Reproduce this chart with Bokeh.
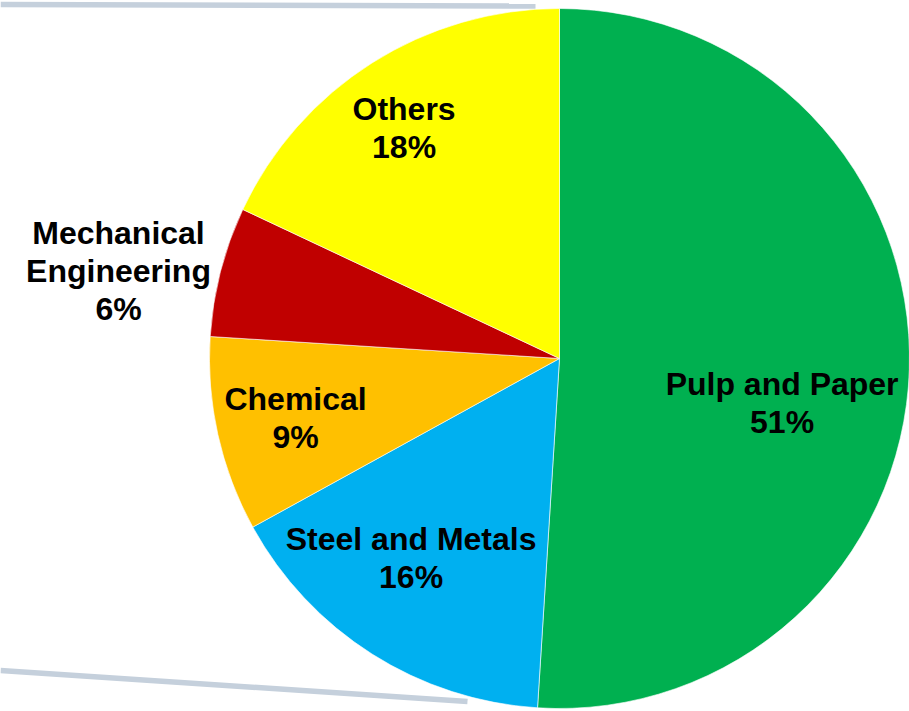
import math
from bokeh.plotting import figure
from bokeh.models import Range1d, ColumnDataSource
from bokeh.core.properties import value
from bokeh.embed import file_html
from bokeh.resources import INLINE

# ---- data ----
categories = ["Pulp and Paper", "Steel and Metals", "Chemical", "Mechanical Engineering", "Others"]
display_names = ["Pulp and Paper", "Steel and Metals", "Chemical", "Mechanical\nEngineering", "Others"]
shares = [51, 16, 9, 6, 18]
colors = ["#00B050", "#00B0F0", "#FFC000", "#C00000", "#FFFF00"]

# ---- layout (screen pixels of the page) ----
W, H = 909, 711
OX, OY = 0, 0
CX, CY, R = 559, 358, 350     # pie centre / radius (page px)
# label block centres as offsets from pie centre, in radius units (x right, y down)
label_offsets = [(0.636, 0.129), (-0.424, 0.573), (-0.754, 0.173), (-1.26, -0.246), (-0.444, -0.657)]
FONT_PX = 32
LINE_H = 38
BASE_SHIFT = -1

p = figure(width=W, height=H, output_backend="svg", toolbar_location=None,
           x_range=Range1d(OX, OX + W), y_range=Range1d(-(OY + H), -OY),
           min_border=0, outline_line_color=None)
p.axis.visible = False
p.xgrid.visible = False
p.ygrid.visible = False
p.background_fill_color = "white"
p.border_fill_color = "white"

# decorative grey connector lines
p.segment(x0=[0, 0], y0=[-4, -670], x1=[535, 467], y1=[-5.5, -701],
          line_color="#C5D0DC", line_width=5.5)

# wedges (clockwise from 12 o'clock)
total = float(sum(shares))
starts, ends = [], []
cum = 0.0
for s in shares:
    c0 = cum / total
    cum += s
    c1 = cum / total
    starts.append(math.pi / 2 - 2 * math.pi * c1)
    ends.append(math.pi / 2 - 2 * math.pi * c0)

src = ColumnDataSource(dict(start=starts, end=ends, color=colors, cat=categories))
p.wedge(x=CX, y=-CY, radius=R, start_angle="start", end_angle="end",
        fill_color="color", line_color="white", line_width=0.6, source=src)

# labels
tx, ty, tt = [], [], []
for name, share, (dx, dy) in zip(display_names, shares, label_offsets):
    lines = name.split("\n") + [f"{share}%"]
    cx = CX + dx * R
    cy = CY + dy * R
    n = len(lines)
    for i, ln in enumerate(lines):
        base = cy - (n - 1) * LINE_H / 2 + i * LINE_H + BASE_SHIFT
        tx.append(cx)
        ty.append(-base)
        tt.append(ln)

p.text(x=tx, y=ty, text=tt, text_font=value("Liberation Sans"), text_font_style="bold",
       text_font_size=f"{FONT_PX}px", text_color="black", text_align="center",
       text_baseline="alphabetic")

open("out.html", "w").write(file_html(p, INLINE))
